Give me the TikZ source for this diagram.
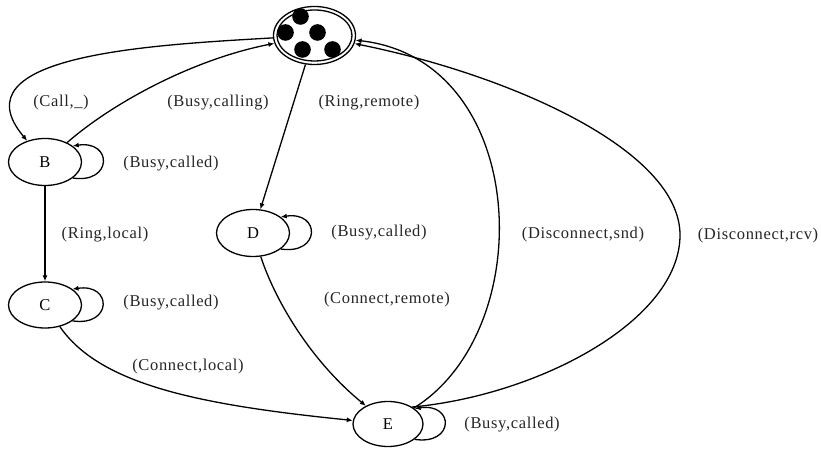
\documentclass[tikz,border=0pt]{standalone}
\usepackage{fontspec}
\setmainfont{Liberation Serif}
\newfontfamily\labelfont[LetterSpace=4]{Liberation Serif}
\usetikzlibrary{arrows.meta,shapes.geometric}
\begin{document}
\begin{tikzpicture}[x=1pt,y=1pt,
  txt/.style={font=\labelfont\fontsize{16.5}{18}\selectfont},
  state/.style={txt, draw, ellipse, line width=1.3pt, inner sep=0pt,
    minimum width=73pt, minimum height=47pt},
  edge/.style={line width=1.3pt, -{Latex[length=6pt,width=5pt]}},
  lbl/.style={txt, text=black!85, inner sep=0pt}]
\useasboundingbox (0,0) rectangle (821,449);
\fill[white] (0,0) rectangle (821,449);

% initial state: double ellipse filled with tokens
\node[state, minimum width=82pt, minimum height=58pt] (A) at (314.5,413.5) {};
\draw[line width=1.3pt] (A.center) ellipse (37.5 and 25.5);
\foreach \dx/\dy in {-14/19, -29/3, 3/3, -12/-14, 18/-14}
  \fill ([shift={(\dx,\dy)}]A.center) circle (8.3);

% states
\node[state] (B) at (45,287) {B};
\node[state, minimum height=46pt] (C) at (45,144) {C};
\node[state] (D) at (253,216) {D};
\node[state, minimum width=70pt, minimum height=45pt] (E) at (388,25) {E};

% transitions
\draw[edge] (A) .. controls (150,404) and (-45,394) .. (B);
\draw[edge] (B) .. controls (110,344) and (190,389) .. (A);
\draw[edge] (A) -- (D);
\draw[edge] (B) -- (C);
\draw[edge] (D) .. controls (275,149) and (310,89) .. (E);
\draw[edge] (C) .. controls (100,64) and (200,44) .. (E);
\draw[edge] (E) .. controls (540,119) and (530,389) .. (A);
\coordinate (rcvturn) at (680,214);
\draw[edge] (E.35) .. controls (540,54) and (680,129) .. (rcvturn)
  .. controls (680,299) and (510,374) .. (A);

% self loops
\foreach \s in {B,C,D,E}
  \draw[edge] (\s.-30) .. controls +(40,-6) and +(40,6) .. (\s.30);

% labels
\node[lbl] (l1) at (61,346) {(Call,\_)};
\node[lbl] (l2) at (218,346) {(Busy,calling)};
\node[lbl] (l3) at (369,346) {(Ring,remote)};
\node[lbl] (l4) at (171,285) {(Busy,called)};
\node[lbl] (l5) at (105,214) {(Ring,local)};
\node[lbl] (l6) at (379,216) {(Busy,called)};
\node[lbl] (l7) at (583,214) {(Disconnect,snd)};
\node[lbl] (l8) at (758,213) {(Disconnect,rcv)};
\node[lbl] (l9) at (171,146) {(Busy,called)};
\node[lbl] (l10) at (387,149) {(Connect,remote)};
\node[lbl] (l11) at (188,82) {(Connect,local)};
\node[lbl] (l12) at (512,24) {(Busy,called)};
\end{tikzpicture}
\end{document}
